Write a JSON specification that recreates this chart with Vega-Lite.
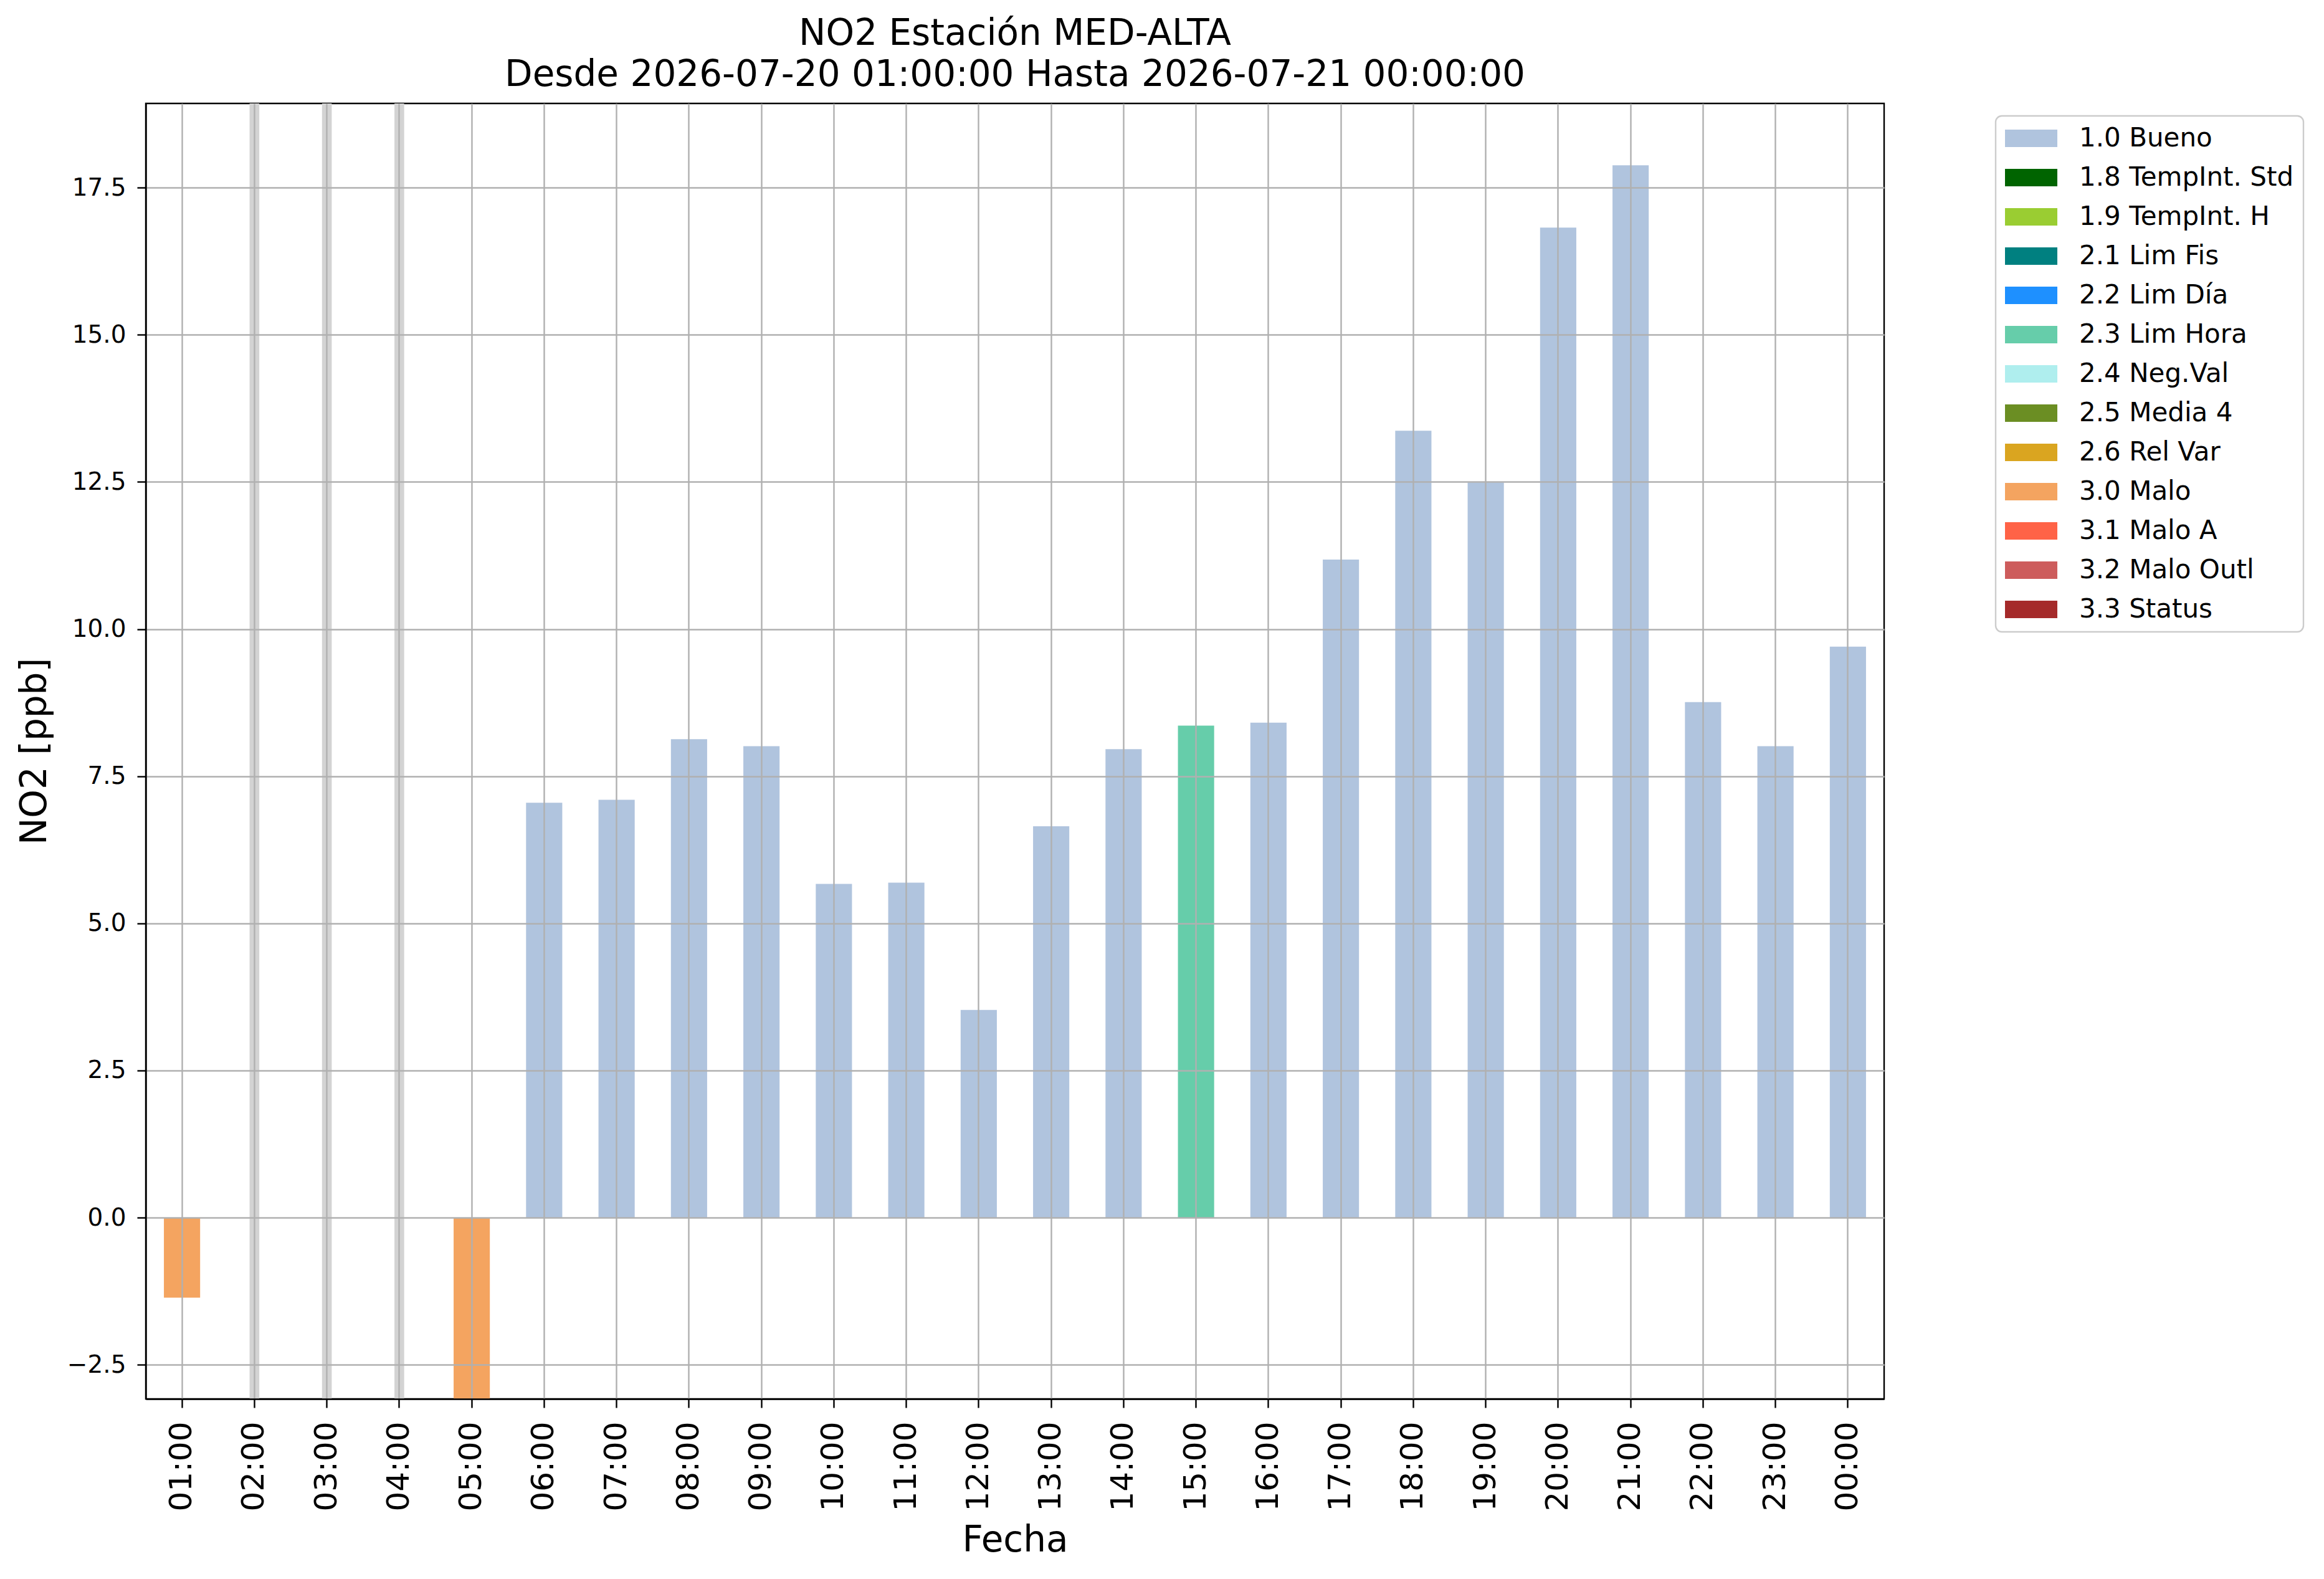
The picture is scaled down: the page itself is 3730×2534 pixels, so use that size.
{
  "$schema": "https://vega.github.io/schema/vega-lite/v6.json",
  "width": 2790,
  "height": 2079,
  "autosize": {"type": "none"},
  "padding": {"left": 234, "top": 166, "right": 706, "bottom": 289},
  "background": "white",
  "title": {
    "text": ["NO2 Estación MED-ALTA", "Desde 2026-07-20 01:00:00 Hasta 2026-07-21 00:00:00"],
    "font": "DejaVu Sans",
    "fontSize": 58,
    "fontWeight": "normal",
    "color": "black",
    "anchor": "middle",
    "frame": "group",
    "lineHeight": 66,
    "offset": 8
  },
  "datasets": {
    "obs": [
      {"hora": "01:00", "valor": -1.36, "estado": "3.0 Malo"},
      {"hora": "05:00", "valor": -3.5, "estado": "3.0 Malo"},
      {"hora": "06:00", "valor": 7.05, "estado": "1.0 Bueno"},
      {"hora": "07:00", "valor": 7.10, "estado": "1.0 Bueno"},
      {"hora": "08:00", "valor": 8.13, "estado": "1.0 Bueno"},
      {"hora": "09:00", "valor": 8.01, "estado": "1.0 Bueno"},
      {"hora": "10:00", "valor": 5.67, "estado": "1.0 Bueno"},
      {"hora": "11:00", "valor": 5.69, "estado": "1.0 Bueno"},
      {"hora": "12:00", "valor": 3.53, "estado": "1.0 Bueno"},
      {"hora": "13:00", "valor": 6.65, "estado": "1.0 Bueno"},
      {"hora": "14:00", "valor": 7.96, "estado": "1.0 Bueno"},
      {"hora": "15:00", "valor": 8.36, "estado": "2.3 Lim Hora"},
      {"hora": "16:00", "valor": 8.41, "estado": "1.0 Bueno"},
      {"hora": "17:00", "valor": 11.18, "estado": "1.0 Bueno"},
      {"hora": "18:00", "valor": 13.37, "estado": "1.0 Bueno"},
      {"hora": "19:00", "valor": 12.49, "estado": "1.0 Bueno"},
      {"hora": "20:00", "valor": 16.82, "estado": "1.0 Bueno"},
      {"hora": "21:00", "valor": 17.88, "estado": "1.0 Bueno"},
      {"hora": "22:00", "valor": 8.76, "estado": "1.0 Bueno"},
      {"hora": "23:00", "valor": 8.01, "estado": "1.0 Bueno"},
      {"hora": "00:00", "valor": 9.70, "estado": "1.0 Bueno"}
    ],
    "faltantes": [
      {"hora": "02:00"},
      {"hora": "03:00"},
      {"hora": "04:00"}
    ]
  },
  "encoding": {
    "x": {
      "field": "hora",
      "type": "ordinal",
      "sort": null,
      "scale": {
        "domain": ["01:00","02:00","03:00","04:00","05:00","06:00","07:00","08:00","09:00","10:00","11:00","12:00","13:00","14:00","15:00","16:00","17:00","18:00","19:00","20:00","21:00","22:00","23:00","00:00"],
        "paddingInner": 0.5,
        "paddingOuter": 0.25
      },
      "axis": {
        "title": "Fecha",
        "labelAngle": 270,
        "labelFontSize": 50,
        "labelPadding": 22,
        "titleFontSize": 58,
        "titlePadding": 18,
        "zindex": 1
      }
    }
  },
  "layer": [
    {
      "data": {"name": "faltantes"},
      "mark": {"type": "rule", "color": "#d3d3d3", "strokeWidth": 15.6}
    },
    {
      "data": {"name": "obs"},
      "mark": {"type": "bar", "clip": true, "strokeWidth": 0},
      "encoding": {
        "y": {
          "field": "valor",
          "type": "quantitative",
          "scale": {"domain": [-3.08, 18.93], "nice": false, "zero": false},
          "axis": {
            "title": "NO2 [ppb]",
            "values": [-2.5, 0, 2.5, 5, 7.5, 10, 12.5, 15, 17.5],
            "format": ".1f",
            "labelFontSize": 39,
            "labelPadding": 18,
            "titleFontSize": 58,
            "titlePadding": 22,
            "zindex": 1
          }
        },
        "color": {
          "field": "estado",
          "type": "nominal",
          "scale": {
            "domain": ["1.0 Bueno", "1.8 TempInt. Std", "1.9 TempInt. H", "2.1 Lim Fis", "2.2 Lim Día", "2.3 Lim Hora", "2.4 Neg.Val", "2.5 Media 4", "2.6 Rel Var", "3.0 Malo", "3.1 Malo A", "3.2 Malo Outl", "3.3 Status"],
            "range": ["#b0c4de", "#006400", "#9acd32", "#008080", "#1e90ff", "#66cdaa", "#afeeee", "#6b8e23", "#daa520", "#f4a460", "#ff6347", "#cd5c5c", "#a52a2a"]
          },
          "legend": {
            "title": null,
            "orient": "none",
            "legendX": 2969,
            "legendY": 20,
            "symbolType": "M-1.5,-1H4.5V1H-1.5Z",
            "symbolSize": 784,
            "symbolStrokeWidth": 0,
            "symbolOpacity": 1,
            "labelFont": "DejaVu Sans",
            "labelFontSize": 42,
            "labelColor": "black",
            "labelOffset": 77,
            "labelLimit": 1000,
            "rowPadding": 21,
            "padding": 15,
            "strokeColor": "#cccccc",
            "cornerRadius": 10,
            "fillColor": "white",
            "encode": {
              "legend": {"update": {"strokeWidth": {"value": 2.4}}}
            }
          }
        }
      }
    }
  ],
  "config": {
    "font": "DejaVu Sans",
    "view": {"stroke": "black", "strokeWidth": 2.4},
    "axis": {
      "labelFont": "DejaVu Sans",
      "titleFont": "DejaVu Sans",
      "labelColor": "black",
      "titleColor": "black",
      "titleFontWeight": "normal",
      "grid": true,
      "gridColor": "#b0b0b0",
      "gridWidth": 2.4,
      "domainColor": "black",
      "domainWidth": 2.4,
      "tickColor": "black",
      "tickWidth": 2.4,
      "tickSize": 14
    }
  }
}
